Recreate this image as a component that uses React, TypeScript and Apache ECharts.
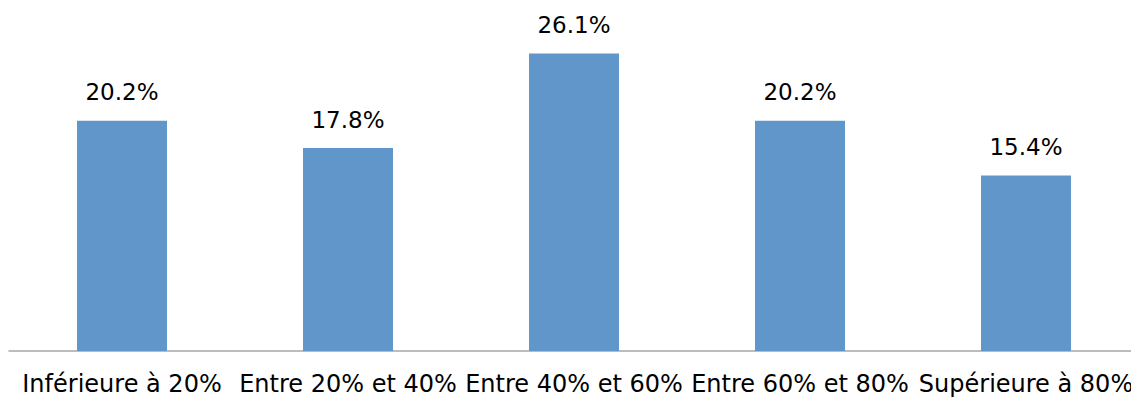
import React, { useEffect, useRef } from "react";
import * as echarts from "echarts";

const categories = [
  "Inférieure à 20%",
  "Entre 20% et 40%",
  "Entre 40% et 60%",
  "Entre 60% et 80%",
  "Supérieure à 80%",
];
const values = [20.2, 17.8, 26.1, 20.2, 15.4];

const FONT = "'DejaVu Sans', sans-serif";

export default function App() {
  const ref = useRef<HTMLDivElement>(null);
  useEffect(() => {
    if (!ref.current) return;
    const chart = echarts.init(ref.current, undefined, { renderer: "svg" });
    chart.setOption({
      animation: false,
      grid: {
        left: 9,
        width: 1130,
        top: 9,
        bottom: 49,
        containLabel: false,
        outerBoundsMode: "none",
      },
      xAxis: {
        type: "category",
        data: categories,
        axisLine: { show: true, lineStyle: { color: "#a6a6a6", width: 1.5 } },
        axisTick: { show: false },
        axisLabel: {
          interval: 0,
          margin: 21,
          color: "#000",
          fontSize: 24,
          fontFamily: FONT,
          hideOverlap: false,
        },
      },
      yAxis: {
        type: "value",
        min: 0,
        max: 30,
        show: false,
        splitLine: { show: false },
      },
      series: [
        {
          type: "bar",
          data: values,
          barWidth: 90,
          itemStyle: { color: "#6096c9" },
          label: {
            show: true,
            position: "top",
            distance: 17,
            color: "#000",
            fontSize: 23,
            fontFamily: FONT,
            formatter: (p: any) => p.value.toFixed(1) + "%",
          },
        },
      ],
    });
    return () => chart.dispose();
  }, []);
  return (
    <div
      ref={ref}
      style={{ position: "fixed", left: 0, top: 0, width: 1131, height: 400, background: "#fff" }}
    />
  );
}
